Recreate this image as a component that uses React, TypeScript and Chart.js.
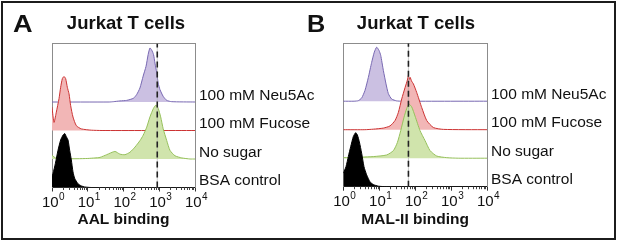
import React, { useEffect, useRef } from 'react';
import { Chart, registerables } from 'chart.js';

Chart.register(...registerables);

const FONT = '"Liberation Sans", Arial, Helvetica, sans-serif';

// ---------- axis ticks ----------
const xMajorTicks = [1, 10, 100, 1000, 10000];
const xMajorBase = '10';
const xMajorExponents = ['0', '1', '2', '3', '4'];
const xMinorTicks = [
  2, 3, 4, 5, 6, 7, 8, 9,
  20, 30, 40, 50, 60, 70, 80, 90,
  200, 300, 400, 500, 600, 700, 800, 900,
  2000, 3000, 4000, 5000, 6000, 7000, 8000, 9000,
];

// lanes, bottom to top
const laneLabels = ['BSA control', 'No sugar', '100 mM Fucose', '100 mM Neu5Ac'];
const laneLabelPos = [0.23, 1.23, 2.23, 3.23];

// ---------- Panel A: AAL binding (x = log10 intensity, y = % of peak) ----------
const aalGateValue = 880;

const aalBsaLog = [0, 0.028, 0.093, 0.168, 0.242, 0.308, 0.355, 0.401, 0.448, 0.494, 0.541, 0.587, 0.634, 0.727, 0.82, 0.914, 1.1, 4];
const aalBsaPct = [22, 26, 44, 69, 88, 97, 100, 94, 88, 69, 51, 29, 17, 7, 3, 1, 0, 0];

const aalNoSugarLog = [0, 0.1, 0.3, 0.7, 1.0, 1.2, 1.343, 1.53, 1.76, 1.9, 2.04, 2.18, 2.32, 2.46, 2.55, 2.65, 2.74, 2.84, 2.91, 2.97, 3.04, 3.11, 3.21, 3.3, 3.44, 3.63, 3.86, 4];
const aalNoSugarPct = [7, 2, 0.5, 0.5, 1, 2, 3, 8, 14, 9, 8, 12.5, 22, 34, 44, 59, 78, 94, 100, 94, 78, 56, 34, 16, 6, 2, 0, 0];

const aalFucoseLog = [0, 0.056, 0.121, 0.196, 0.242, 0.289, 0.336, 0.382, 0.429, 0.476, 0.522, 0.587, 0.68, 0.82, 1.1, 1.4, 4];
const aalFucosePct = [43, 15, 34, 59, 80, 96, 100, 96, 80, 68, 46, 25, 9, 3, 0.6, 0, 0];

const aalNeu5AcLog = [0, 1.6, 1.72, 1.9, 2.09, 2.28, 2.37, 2.46, 2.55, 2.63, 2.69, 2.74, 2.79, 2.84, 2.88, 2.93, 2.97, 3.02, 3.11, 3.21, 3.35, 4];
const aalNeu5AcPct = [0, 0, 0.6, 2, 3, 7, 14, 26, 48, 66, 88, 100, 96, 88, 72, 54, 35, 23, 10.5, 3, 0.6, 0];

// ---------- Panel B: MAL-II binding ----------
const malGateValue = 65;

const malBsaLog = [0, 0.075, 0.14, 0.205, 0.28, 0.344, 0.391, 0.447, 0.511, 0.576, 0.65, 0.744, 0.836, 0.976, 1.2, 4];
const malBsaPct = [25, 37, 56, 74, 93, 100, 96, 83, 62, 37, 22, 9, 4, 1, 0, 0];

const malNoSugarLog = [0, 0.094, 0.836, 1.208, 1.394, 1.505, 1.598, 1.691, 1.765, 1.83, 1.904, 1.997, 2.136, 2.276, 2.415, 2.601, 2.879, 3.2, 4];
const malNoSugarPct = [1, 1, 3, 6, 14, 29, 51, 76, 92, 100, 95, 78, 51, 32.5, 14, 4, 1, 0, 0];

const malFucoseLog = [0, 0.6, 0.836, 1.115, 1.301, 1.44, 1.533, 1.626, 1.719, 1.784, 1.81, 1.835, 1.86, 1.9, 1.95, 2.043, 2.183, 2.322, 2.508, 2.786, 4];
const malFucosePct = [0, 0, 1, 3, 7, 17, 32, 57, 78, 92, 100, 93, 97, 90, 85, 69, 41, 17, 4, 0.6, 0];

const malNeu5AcLog = [0, 0.3, 0.419, 0.512, 0.604, 0.697, 0.79, 0.864, 0.929, 0.994, 1.041, 1.115, 1.189, 1.254, 1.347, 1.486, 1.625, 4];
const malNeu5AcPct = [0, 0, 1, 6, 20, 44, 72, 91, 100, 94, 85, 57, 32, 14, 4, 0.6, 0, 0];

// ---------- styles ----------
const laneStyles = [
  { line: '#000000', fill: '#000000' },
  { line: '#96c05c', fill: '#d0e4ac' },
  { line: '#cc3333', fill: '#f2b6b6' },
  { line: '#7868b2', fill: '#cbc0e2' },
];

type PanelProps = {
  left: number;
  width: number;
  plotLeft: number;
  plotRight: number;
  plotTop: number;
  plotBottom: number;
  axisTitle: string;
  gate: number;
  series: { log: number[]; pct: number[] }[];
};

const H = 241;

function Panel(p: PanelProps) {
  const ref = useRef<HTMLCanvasElement | null>(null);

  useEffect(() => {
    if (!ref.current) return;
    const lanePx = 28.5;
    const yMax = (p.plotBottom - p.plotTop) / lanePx;
    const peak = 54 / lanePx;

    const histDatasets = p.series.map((s, lane) => ({
      data: s.log.map((e, i) => ({ x: Math.pow(10, e), y: lane + (s.pct[i] / 100) * peak })),
      borderColor: laneStyles[lane].line,
      backgroundColor: laneStyles[lane].fill,
      borderWidth: 1,
      pointRadius: 0,
      tension: 0.2,
      fill: { value: lane },
    }));

    const datasets: any[] = [
      {
        data: [{ x: p.gate, y: 0 }, { x: p.gate, y: yMax }],
        borderColor: '#222222',
        borderWidth: 1.6,
        borderDash: [6, 4],
        pointRadius: 0,
        fill: false,
      },
      {
        data: [{ x: p.gate, y: 0 }, { x: p.gate, y: yMax }],
        borderColor: 'rgba(170,170,170,0.6)',
        borderWidth: 1,
        pointRadius: 0,
        fill: false,
      },
      ...histDatasets,
    ];

    const axisDecor = {
      id: 'axisDecor',
      afterDraw(chart: any) {
        const sx = chart.scales.x;
        const ctx = chart.ctx;
        const y0 = chart.chartArea.bottom;
        ctx.save();
        // minor ticks
        ctx.strokeStyle = '#444';
        ctx.lineWidth = 1;
        for (const v of xMinorTicks) {
          const px = Math.round(sx.getPixelForValue(v)) + 0.5;
          ctx.beginPath();
          ctx.moveTo(px, y0);
          ctx.lineTo(px, y0 + 2.5);
          ctx.stroke();
        }
        // major tick labels: "10" with raised exponent
        ctx.fillStyle = '#111';
        ctx.textBaseline = 'alphabetic';
        ctx.textAlign = 'left';
        const baseY = y0 + 19.2;
        xMajorTicks.forEach((v, i) => {
          const px = sx.getPixelForValue(v);
          ctx.font = `15px ${FONT}`;
          const w1 = ctx.measureText(xMajorBase).width;
          ctx.font = `10px ${FONT}`;
          const w2 = ctx.measureText(xMajorExponents[i]).width;
          const x0 = px - (w1 + w2) / 2 + 1;
          ctx.font = `15px ${FONT}`;
          ctx.fillText(xMajorBase, x0, baseY);
          ctx.font = `10px ${FONT}`;
          ctx.fillText(xMajorExponents[i], x0 + w1 + 0.5, baseY - 6.8);
        });
        ctx.restore();
      },
    };

    const chart = new Chart(ref.current, {
      type: 'line',
      data: { datasets },
      plugins: [axisDecor],
      options: {
        responsive: false,
        animation: false,
        devicePixelRatio: 1,
        layout: { padding: { left: p.plotLeft, top: p.plotTop, right: 0, bottom: 0 } },
        plugins: { legend: { display: false }, tooltip: { enabled: false }, title: { display: false } },
        scales: {
          x: {
            type: 'logarithmic',
            position: 'bottom',
            min: 1,
            max: 10000,
            afterBuildTicks: (s: any) => {
              s.ticks = xMajorTicks.map((v) => ({ value: v }));
            },
            afterFit: (s: any) => {
              s.height = H - p.plotBottom;
            },
            ticks: { display: false, autoSkip: false, maxRotation: 0 },
            grid: { drawOnChartArea: false, drawTicks: true, tickLength: 4, color: '#333', tickColor: '#333' },
            border: { color: '#333', width: 1 },
            title: {
              display: true,
              text: p.axisTitle,
              color: '#111',
              font: { family: FONT, size: 15.5, weight: 'bold' },
              padding: { top: 0, bottom: 12 },
            },
          },
          x2: {
            type: 'linear',
            position: 'top',
            ticks: { display: false },
            grid: { drawOnChartArea: false, drawTicks: false },
            border: { color: '#8c8c8c', width: 1 },
            afterFit: (s: any) => {
              s.height = 0;
            },
          },
          y: {
            type: 'linear',
            position: 'left',
            min: 0,
            max: yMax,
            ticks: { display: false },
            grid: { drawOnChartArea: false, drawTicks: false },
            border: { color: '#8c8c8c', width: 1 },
            afterFit: (s: any) => {
              s.width = 0;
            },
          },
          y2: {
            type: 'linear',
            position: 'right',
            min: 0,
            max: yMax,
            afterBuildTicks: (s: any) => {
              s.ticks = laneLabelPos.map((v) => ({ value: v }));
            },
            afterFit: (s: any) => {
              s.width = p.width - p.plotRight;
            },
            ticks: {
              padding: 4,
              color: '#111',
              font: { family: FONT, size: 15.5 },
              callback: (v: any) => {
                const i = laneLabelPos.indexOf(Number(v));
                return i >= 0 ? laneLabels[i] : '';
              },
            },
            grid: { drawOnChartArea: false, drawTicks: false },
            border: { color: '#8c8c8c', width: 1 },
          },
        },
      } as any,
    });
    return () => chart.destroy();
  }, []);

  return (
    <canvas
      ref={ref}
      width={p.width}
      height={H}
      style={{ position: 'absolute', left: p.left, top: 0, width: p.width, height: H }}
    />
  );
}

const textBase: React.CSSProperties = {
  position: 'absolute',
  fontFamily: FONT,
  fontWeight: 'bold',
  color: '#111',
  whiteSpace: 'nowrap',
};

export default function App() {
  return (
    <div style={{ position: 'fixed', left: 0, top: 0, width: 617, height: 241, background: '#fff', overflow: 'hidden' }}>
      <Panel
        left={0}
        width={330}
        plotLeft={52}
        plotRight={195}
        plotTop={43.5}
        plotBottom={187.5}
        axisTitle="AAL binding"
        gate={aalGateValue}
        series={[
          { log: aalBsaLog, pct: aalBsaPct },
          { log: aalNoSugarLog, pct: aalNoSugarPct },
          { log: aalFucoseLog, pct: aalFucosePct },
          { log: aalNeu5AcLog, pct: aalNeu5AcPct },
        ]}
      />
      <Panel
        left={300}
        width={317}
        plotLeft={43.3}
        plotRight={187}
        plotTop={43.3}
        plotBottom={186.7}
        axisTitle="MAL-II binding"
        gate={malGateValue}
        series={[
          { log: malBsaLog, pct: malBsaPct },
          { log: malNoSugarLog, pct: malNoSugarPct },
          { log: malFucoseLog, pct: malFucosePct },
          { log: malNeu5AcLog, pct: malNeu5AcPct },
        ]}
      />
      <div style={{ ...textBase, left: 12.5, top: 13, fontSize: 23, lineHeight: '23px', transform: 'scaleX(1.18)', transformOrigin: 'left center' }}>A</div>
      <div style={{ ...textBase, left: 306.5, top: 13, fontSize: 23, lineHeight: '23px', transform: 'scaleX(1.1)', transformOrigin: 'left center' }}>B</div>
      <div style={{ ...textBase, left: 26, width: 200, textAlign: 'center', top: 13.6, fontSize: 18.5, lineHeight: '18.5px' }}>
        Jurkat T cells
      </div>
      <div style={{ ...textBase, left: 316, width: 200, textAlign: 'center', top: 13.6, fontSize: 18.5, lineHeight: '18.5px' }}>
        Jurkat T cells
      </div>
      <div
        style={{
          position: 'absolute',
          left: 1,
          top: 1,
          width: 615,
          height: 239,
          boxSizing: 'border-box',
          border: '2px solid #1c1c1c',
          pointerEvents: 'none',
        }}
      />
    </div>
  );
}
